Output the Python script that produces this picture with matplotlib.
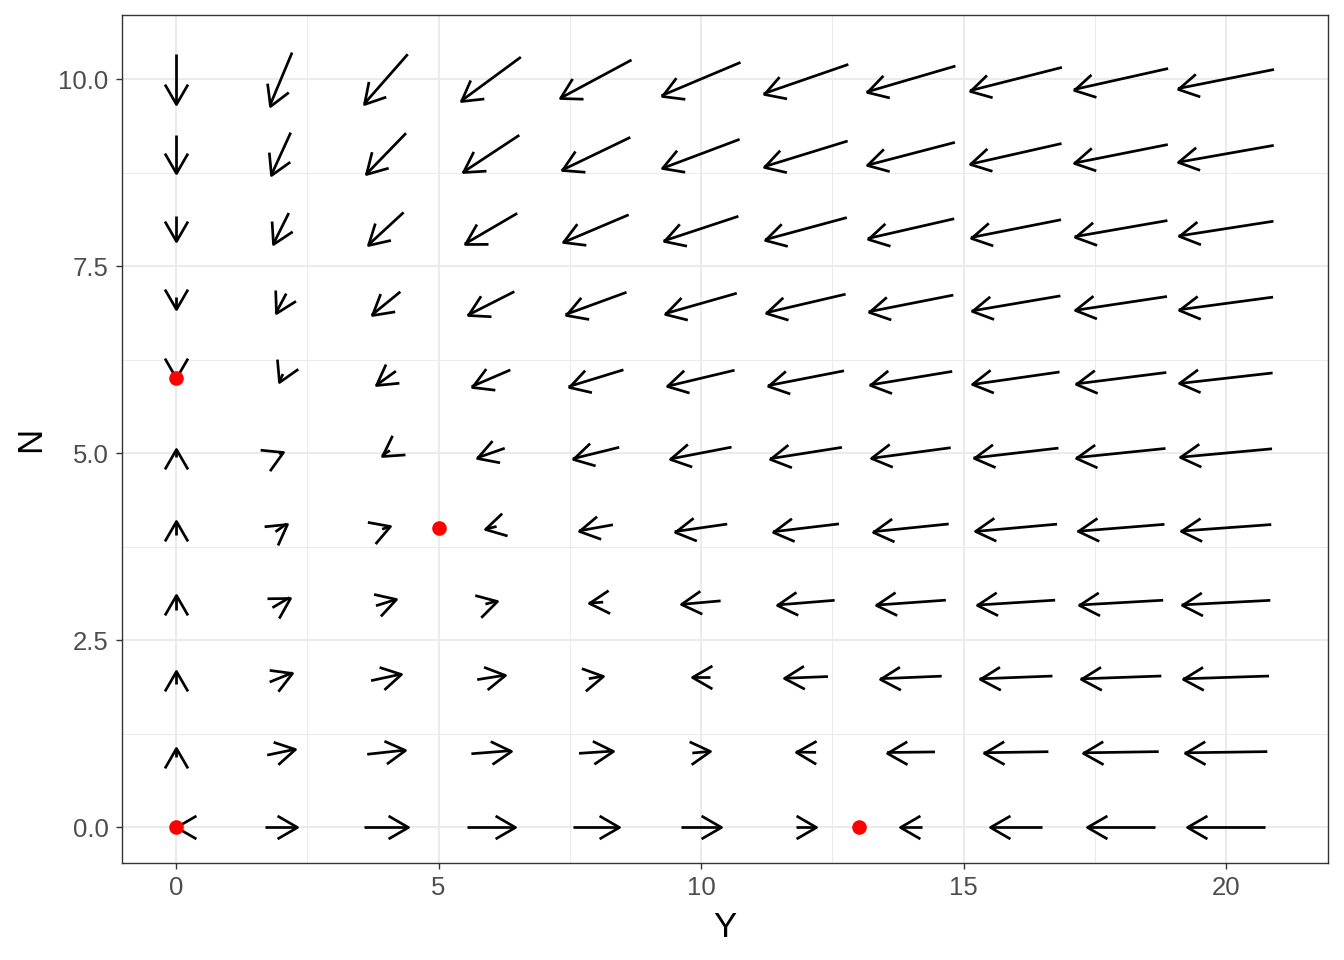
import numpy as np
import matplotlib
matplotlib.use("Agg")
import matplotlib.pyplot as plt
from matplotlib.collections import LineCollection
from matplotlib.path import Path
from matplotlib.markers import MarkerStyle
from matplotlib.transforms import Affine2D

plt.rcParams['font.family'] = ['Liberation Sans', 'DejaVu Sans']

# ---- data -------------------------------------------------------------
Y_grid = [0, 2, 4, 6, 8, 10, 12, 14, 16, 18, 20]
N_grid = [0, 1, 2, 3, 4, 5, 6, 7, 8, 9, 10]

# arrow components (data units) per row, N = 0 .. 10, columns Y = 0 .. 20
dx_rows = [
    [0.000, 0.609, 0.836, 0.913, 0.888, 0.749, 0.385, -0.435, -0.980, -1.290, -1.481],
    [0.000, 0.526, 0.716, 0.748, 0.647, 0.331, -0.385, -0.913, -1.234, -1.438, -1.574],
    [0.000, 0.432, 0.568, 0.526, 0.274, -0.331, -0.836, -1.169, -1.388, -1.536, -1.640],
    [0.000, 0.327, 0.383, 0.212, -0.274, -0.748, -1.091, -1.328, -1.491, -1.606, -1.688],
    [0.000, 0.210, 0.147, -0.212, -0.645, -0.998, -1.255, -1.436, -1.564, -1.657, -1.725],
    [0.000, 0.076, -0.146, -0.523, -0.883, -1.163, -1.367, -1.513, -1.618, -1.696, -1.754],
    [0.000, -0.074, -0.376, -0.736, -1.045, -1.278, -1.448, -1.570, -1.659, -1.726, -1.776],
    [0.000, -0.199, -0.546, -0.888, -1.161, -1.362, -1.508, -1.613, -1.691, -1.750, -1.794],
    [0.000, -0.296, -0.671, -0.998, -1.245, -1.424, -1.553, -1.646, -1.716, -1.768, -1.809],
    [0.000, -0.369, -0.762, -1.078, -1.307, -1.470, -1.587, -1.672, -1.735, -1.783, -1.820],
    [0.000, -0.422, -0.828, -1.136, -1.353, -1.505, -1.613, -1.692, -1.750, -1.795, -1.830],
]
dy_rows = [
    [0.000, 0.000, 0.000, 0.000, 0.000, 0.000, 0.000, 0.000, 0.000, 0.000, 0.000],
    [0.117, 0.077, 0.055, 0.041, 0.030, 0.021, 0.004, -0.008, -0.014, -0.016, -0.016],
    [0.181, 0.124, 0.086, 0.059, 0.034, 0.000, -0.023, -0.034, -0.037, -0.038, -0.037],
    [0.202, 0.136, 0.084, 0.040, -0.013, -0.047, -0.062, -0.066, -0.066, -0.064, -0.061],
    [0.181, 0.106, 0.037, -0.036, -0.081, -0.100, -0.105, -0.103, -0.098, -0.093, -0.087],
    [0.117, 0.024, -0.069, -0.128, -0.152, -0.157, -0.151, -0.142, -0.132, -0.122, -0.113],
    [-0.001, -0.112, -0.189, -0.222, -0.225, -0.214, -0.198, -0.182, -0.167, -0.153, -0.141],
    [-0.160, -0.263, -0.312, -0.316, -0.298, -0.272, -0.247, -0.223, -0.202, -0.185, -0.169],
    [-0.333, -0.417, -0.434, -0.409, -0.370, -0.330, -0.295, -0.264, -0.238, -0.216, -0.198],
    [-0.505, -0.567, -0.551, -0.499, -0.441, -0.388, -0.343, -0.306, -0.275, -0.248, -0.226],
    [-0.667, -0.708, -0.662, -0.586, -0.510, -0.445, -0.391, -0.347, -0.311, -0.281, -0.255],
]

# equilibrium points
eq_Y = [0, 0, 5, 13]
eq_N = [0, 6, 4, 0]

x_ticks = [0, 5, 10, 15, 20]
x_tick_labels = ["0", "5", "10", "15", "20"]
y_ticks = [0, 2.5, 5, 7.5, 10]
y_tick_labels = ["0.0", "2.5", "5.0", "7.5", "10.0"]
x_label = "Y"
y_label = "N"

# ---- figure -------------------------------------------------------------
W, H = 1344, 960
fig = plt.figure(figsize=(W / 100, H / 100), dpi=100)
L, R, T, B = 122, 1328, 15, 863
ax = fig.add_axes([L / W, 1 - B / H, (R - L) / W, (B - T) / H])
ax.set_xlim(-1.029, 21.943)
ax.set_ylim(-0.481, 10.856)

ax.set_xticks(x_ticks)
ax.set_xticklabels(x_tick_labels)
ax.set_yticks(y_ticks)
ax.set_yticklabels(y_tick_labels)
ax.set_xticks([2.5, 7.5, 12.5, 17.5], minor=True)
ax.set_yticks([1.25, 3.75, 6.25, 8.75], minor=True)
ax.grid(which='major', color='#EBEBEB', linewidth=1.45)
ax.grid(which='minor', color='#EBEBEB', linewidth=0.75)
ax.set_axisbelow(True)
ax.tick_params(which='minor', length=0)
ax.tick_params(which='major', length=4.3, width=1.0, color='#333333',
               labelcolor='#4D4D4D', labelsize=18.5)
ax.tick_params(axis='x', which='major', pad=5)
ax.tick_params(axis='y', which='major', pad=5.5)
for s in ax.spines.values():
    s.set_color('#333333')
    s.set_linewidth(1.0)
ax.set_xlabel(x_label, fontsize=25)
ax.set_ylabel(y_label, fontsize=25)
ax.xaxis.set_label_coords(0.5, (B - 911) / (B - T))
ax.yaxis.set_label_coords((47 - L) / (R - L), 0.5)

# ---- arrows -------------------------------------------------------------
lw = 1.95
segs = []
tips = []
for i, N in enumerate(N_grid):
    for j, Y in enumerate(Y_grid):
        dx = dx_rows[i][j]
        dy = dy_rows[i][j]
        x0, y0 = Y - dx / 2, N - dy / 2
        x1, y1 = Y + dx / 2, N + dy / 2
        segs.append([(x0, y0), (x1, y1)])
        tips.append((x1, y1, dx, dy))

ax.add_collection(LineCollection(segs, colors='black', linewidths=lw,
                                 capstyle='butt', zorder=3))

p0 = ax.transData.transform((0, 0))
px = ax.transData.transform((1, 0))[0] - p0[0]
py = ax.transData.transform((0, 1))[1] - p0[1]

c, s = np.cos(np.radians(30)), np.sin(np.radians(30))
head = Path([(-c, s), (0, 0), (-c, -s)], [Path.MOVETO, Path.LINETO, Path.LINETO])
arm_px = 23.0
ms = (arm_px * 72 / 100) / (0.5 / c)
for (x1, y1, dx, dy) in tips:
    if dx == 0 and dy == 0:
        ang = np.pi
    else:
        ang = np.arctan2(dy * py, dx * px)
    m = MarkerStyle(head, fillstyle='none', transform=Affine2D().rotate(ang))
    ax.plot([x1], [y1], linestyle='none', marker=m, markersize=ms,
            markeredgecolor='black', markerfacecolor='none',
            markeredgewidth=lw, zorder=3)

ax.plot(eq_Y, eq_N, linestyle='none', marker='o', markersize=10.5,
        color='#FF0000', markeredgewidth=0, zorder=4)

fig.savefig("out.png", dpi=100)
